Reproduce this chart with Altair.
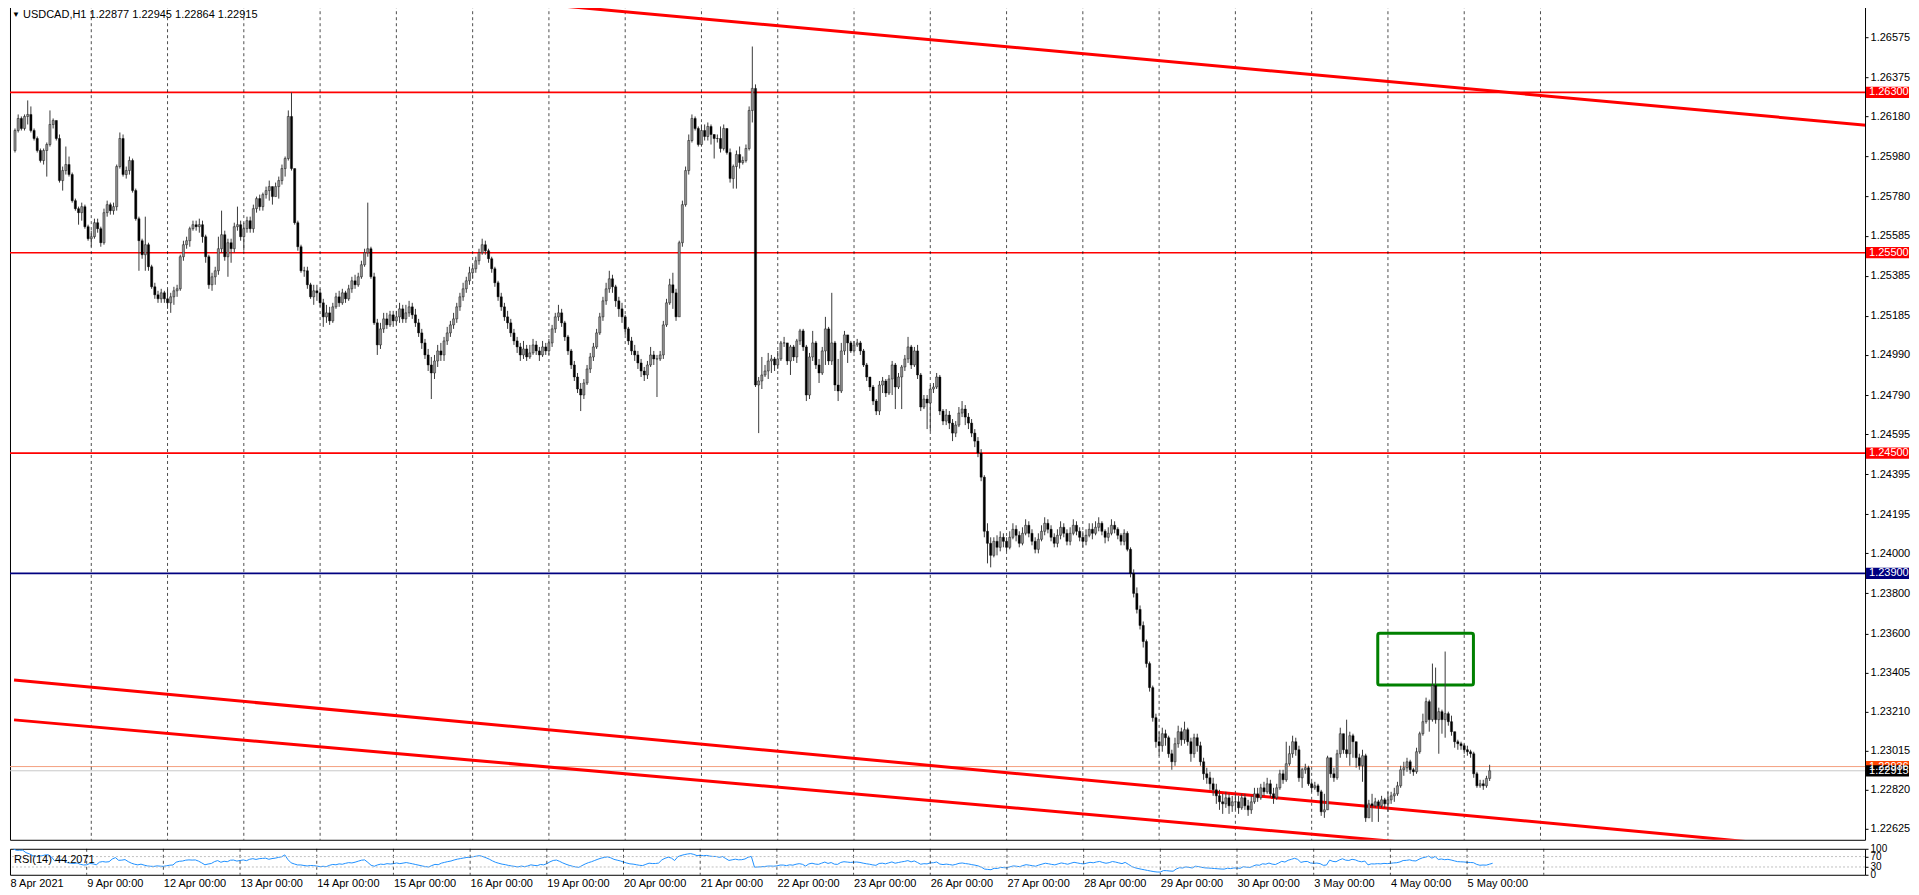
import altair as alt
import pandas as pd

FONT = "Liberation Sans"

# ---------------- data ----------------
DAY_LABELS = ["8 Apr 2021", "9 Apr 00:00", "12 Apr 00:00", "13 Apr 00:00", "14 Apr 00:00",
              "15 Apr 00:00", "16 Apr 00:00", "19 Apr 00:00", "20 Apr 00:00", "21 Apr 00:00",
              "22 Apr 00:00", "23 Apr 00:00", "26 Apr 00:00", "27 Apr 00:00", "28 Apr 00:00",
              "29 Apr 00:00", "30 Apr 00:00", "3 May 00:00", "4 May 00:00", "5 May 00:00"]

# hourly candles; prices written as points above 1.20000 (6110 -> 1.26110)
FIRST_OPEN = 6010
C_0408 = [6110,6170,6120,6180,6190,6110,6070,6010,5960,6010,6040,6140,6160,6070,5860,5910,5940,5890,5760,5720,5700,5730,5630,5570]
H_0408 = [6120,6190,6180,6190,6260,6230,6120,6080,6020,6020,6050,6210,6170,6160,6090,5930,6030,5980,5900,5770,5730,5750,5740,5640]
L_0408 = [6000,6100,6110,6110,6140,6100,6060,6000,5950,5940,5880,6030,6120,6060,5850,5810,5890,5880,5750,5710,5640,5660,5620,5560]
C_0409 = [5580,5650,5620,5550,5700,5740,5710,5730,5930,6070,5890,5910,5960,5810,5670,5560,5490,5540,5430,5330,5290,5270,5300,5270]
H_0409 = [5610,5670,5670,5630,5720,5760,5750,5750,5940,6100,6090,5930,5980,5970,5820,5680,5570,5680,5550,5440,5350,5310,5320,5310]
L_0409 = [5530,5570,5600,5530,5540,5680,5690,5690,5710,5920,5880,5870,5890,5800,5660,5410,5470,5410,5410,5320,5270,5250,5250,5250]
C_0412 = [5250,5280,5310,5320,5480,5540,5560,5620,5640,5630,5640,5580,5480,5340,5380,5410,5520,5590,5480,5550,5520,5630,5640,5580]
H_0412 = [5320,5300,5330,5340,5490,5560,5580,5630,5660,5660,5670,5660,5590,5490,5400,5430,5580,5710,5610,5570,5570,5650,5730,5660]
L_0412 = [5220,5200,5240,5280,5310,5460,5520,5530,5610,5610,5600,5550,5450,5320,5310,5340,5390,5500,5460,5380,5450,5500,5610,5560]
C_0413 = [5620,5660,5620,5720,5770,5730,5790,5810,5830,5780,5830,5860,5920,5970,6180,5920,5650,5530,5410,5410,5340,5280,5310,5300]
H_0413 = [5650,5680,5680,5740,5780,5790,5800,5830,5860,5820,5850,5880,5940,5980,6210,6300,5920,5660,5540,5430,5430,5350,5340,5340]
L_0413 = [5510,5600,5600,5600,5700,5710,5710,5770,5760,5740,5780,5770,5840,5880,5960,5910,5640,5510,5400,5380,5320,5270,5240,5260]
C_0414 = [5250,5180,5200,5160,5230,5280,5250,5300,5270,5320,5360,5340,5380,5440,5500,5520,5380,5150,5040,5120,5170,5140,5190,5160]
H_0414 = [5320,5270,5240,5230,5250,5300,5310,5320,5310,5340,5380,5390,5400,5460,5520,5750,5530,5400,5170,5150,5200,5200,5210,5210]
L_0414 = [5230,5130,5150,5140,5150,5220,5230,5240,5250,5260,5300,5320,5330,5370,5430,5480,5370,5140,4990,5020,5100,5120,5130,5130]
C_0415 = [5180,5220,5170,5200,5230,5190,5150,5100,5050,4990,4940,4900,4960,5010,4990,5060,5100,5140,5170,5230,5280,5320,5360,5400]
H_0415 = [5210,5250,5240,5240,5260,5250,5220,5170,5120,5070,5020,4980,4990,5040,5050,5080,5130,5160,5200,5250,5300,5350,5380,5430]
L_0415 = [5140,5150,5150,5150,5180,5170,5130,5080,5020,4970,4910,4770,4870,4930,4960,4960,5040,5080,5120,5150,5210,5260,5300,5340]
C_0416 = [5420,5460,5500,5540,5510,5470,5420,5350,5280,5230,5180,5150,5100,5060,5030,4990,5020,4980,5000,5040,5010,4990,5030,5010]
H_0416 = [5440,5480,5520,5570,5560,5520,5480,5430,5360,5300,5250,5210,5170,5120,5080,5050,5060,5040,5040,5070,5060,5030,5060,5050]
L_0416 = [5370,5400,5440,5490,5490,5450,5400,5330,5260,5210,5160,5120,5080,5040,5000,4960,4970,4960,4970,4990,4990,4960,4980,4990]
C_0419 = [5050,5120,5180,5200,5150,5080,5010,4940,4880,4820,4790,4850,4920,4980,5030,5100,5180,5260,5320,5370,5330,5260,5220,5180]
H_0419 = [5070,5140,5200,5240,5220,5160,5090,5020,4960,4900,4850,4870,4940,5000,5050,5120,5200,5280,5350,5410,5390,5340,5280,5250]
L_0419 = [4990,5030,5100,5160,5130,5060,4990,4920,4860,4800,4710,4770,4840,4900,4960,5020,5090,5160,5240,5300,5300,5230,5180,5150]
C_0420 = [5120,5060,5010,4990,4950,4910,4890,4940,4990,4970,4970,4990,5140,5250,5340,5300,5180,5550,5740,5910,6060,6170,6120,6040]
H_0420 = [5190,5130,5080,5040,5010,4970,4930,4960,5030,5010,4990,5010,5160,5270,5370,5400,5320,5560,5760,5930,6090,6190,6180,6130]
L_0420 = [5090,5040,4990,4960,4920,4880,4860,4870,4930,4940,4780,4960,4970,5130,5240,5220,5160,5180,5530,5730,5890,6050,6110,6030]
C_0421 = [6110,6080,6130,6090,6070,6070,6020,6120,6000,5870,5930,5990,5950,5960,6020,6210,6320,4840,4860,4890,4910,4960,4970,4940]
H_0421 = [6140,6140,6150,6140,6090,6090,6130,6140,6120,6020,5940,6010,6030,5980,6040,6230,6529,6340,4880,4980,4940,5000,4990,4980]
L_0421 = [6030,6060,6060,6040,5970,6050,6000,6010,5990,5850,5820,5820,5920,5940,5950,6010,6150,4830,4600,4820,4880,4870,4900,4910]
C_0422 = [4970,5050,5050,4960,5030,4980,5060,5110,5030,4790,4980,5050,4940,4900,5010,5120,4960,5050,4840,4810,5010,5090,5050,5010]
H_0422 = [5010,5060,5080,5050,5040,5040,5070,5120,5120,5040,5000,5110,5060,4970,5030,5180,5130,5300,5060,4970,5050,5110,5070,5060]
L_0422 = [4920,4960,5030,4940,4890,4960,4950,5040,5010,4760,4770,4960,4920,4850,4890,4940,4940,4940,4810,4760,4800,4990,4950,5000]
C_0423 = [5040,5050,5010,4940,4880,4830,4760,4710,4840,4860,4800,4870,4940,4830,4880,4930,4970,5030,4940,5010,4890,4730,4770,4750]
H_0423 = [5060,5070,5060,5020,4950,4880,4840,4770,4860,4880,4870,4890,4960,4950,4900,4940,4990,5080,5040,5030,5040,4900,4790,4790]
L_0423 = [5000,5030,4990,4930,4860,4810,4740,4690,4690,4800,4780,4790,4790,4720,4820,4720,4910,4950,4920,4930,4870,4710,4720,4620]
C_0426 = [4820,4830,4880,4710,4660,4690,4650,4600,4640,4700,4720,4680,4650,4600,4560,4500,4380,4110,4050,3990,4060,4030,4080,4060]
H_0426 = [4840,4850,4900,4890,4720,4720,4710,4670,4660,4730,4760,4740,4700,4670,4620,4580,4520,4390,4150,4080,4080,4090,4110,4100]
L_0426 = [4610,4800,4820,4690,4640,4640,4620,4560,4580,4630,4680,4640,4620,4580,4530,4480,4360,4080,3950,3930,3980,3990,4010,4030]
C_0427 = [4030,4080,4120,4090,4050,4100,4140,4100,4060,4020,4070,4110,4150,4120,4080,4050,4090,4130,4100,4060,4100,4140,4110,4080]
H_0427 = [4080,4110,4150,4140,4110,4130,4170,4160,4120,4080,4100,4140,4180,4170,4140,4100,4120,4160,4150,4120,4130,4170,4160,4130]
L_0427 = [4010,4020,4070,4060,4030,4040,4090,4080,4040,4000,4000,4060,4090,4100,4060,4030,4030,4070,4080,4040,4040,4090,4090,4060]
C_0428 = [4060,4090,4120,4100,4130,4150,4110,4080,4100,4140,4120,4090,4060,4100,4020,3900,3800,3720,3640,3560,3450,3330,3180,3060]
H_0428 = [4110,4120,4150,4150,4160,4180,4160,4120,4130,4170,4160,4130,4100,4120,4110,4030,3920,3830,3740,3660,3570,3460,3340,3200]
L_0428 = [4030,4040,4080,4070,4090,4110,4090,4050,4060,4090,4100,4070,4040,4040,4010,3880,3780,3700,3620,3530,3430,3310,3160,3030]
C_0429 = [3040,3100,3080,3000,2960,3050,3110,3070,3120,3060,3000,3080,3040,2960,2900,2880,2850,2820,2790,2760,2750,2780,2740,2760]
H_0429 = [3110,3130,3120,3090,3020,3080,3140,3130,3160,3130,3080,3100,3100,3060,2980,2930,2910,2880,2850,2820,2800,2810,2800,2790]
L_0429 = [2990,3010,3040,2980,2920,2940,3030,3040,3050,3040,2960,2980,3010,2940,2870,2850,2820,2790,2750,2720,2700,2730,2700,2710]
C_0430 = [2760,2730,2780,2740,2720,2760,2800,2780,2830,2810,2850,2800,2780,2830,2900,2870,2950,3000,3060,3020,2880,2920,2930,2850]
H_0430 = [2800,2790,2800,2800,2770,2790,2830,2830,2850,2860,2880,2870,2830,2850,2920,2920,3060,3040,3090,3080,3040,2930,2950,2940]
L_0430 = [2720,2700,2720,2720,2690,2700,2750,2760,2770,2790,2800,2780,2750,2770,2820,2850,2860,2940,2980,2990,2860,2830,2900,2840]
C_0503 = [2830,2840,2810,2710,2720,2980,2900,2880,3000,3100,3020,3000,3090,3060,2980,2940,2990,2680,2750,2740,2760,2740,2770,2750]
H_0503 = [2860,2860,2850,2820,2800,2990,2980,2930,3020,3130,3100,3170,3110,3100,3040,3000,3020,3000,2770,2800,2780,2770,2790,2780]
L_0503 = [2810,2820,2790,2690,2680,2720,2880,2860,2870,2980,3000,2980,2940,2980,2930,2920,2860,2660,2680,2660,2730,2660,2730,2730]
C_0504 = [2770,2790,2800,2840,2920,2930,2960,2920,2910,3010,3100,3160,3260,3170,3340,3170,3210,3170,3200,3160,3110,3060,3050,3040]
H_0504 = [2810,2810,2830,2860,2940,2960,2980,2970,2930,3030,3110,3200,3280,3270,3450,3430,3230,3220,3510,3210,3190,3110,3070,3060]
L_0504 = [2710,2750,2760,2790,2830,2890,2910,2900,2890,2900,3000,3090,3150,3110,3160,3150,3000,3100,3080,3140,3090,3030,3020,3020]
C_0505 = [3020,3010,3000,2900,2840,2850,2840,2877,2915]
H_0505 = [3050,3040,3020,3010,2910,2870,2870,2890,2945]
L_0505 = [3000,2990,2980,2880,2830,2830,2820,2830,2864]

DAYS = [(C_0408, H_0408, L_0408), (C_0409, H_0409, L_0409), (C_0412, H_0412, L_0412),
        (C_0413, H_0413, L_0413), (C_0414, H_0414, L_0414), (C_0415, H_0415, L_0415),
        (C_0416, H_0416, L_0416), (C_0419, H_0419, L_0419), (C_0420, H_0420, L_0420),
        (C_0421, H_0421, L_0421), (C_0422, H_0422, L_0422), (C_0423, H_0423, L_0423),
        (C_0426, H_0426, L_0426), (C_0427, H_0427, L_0427), (C_0428, H_0428, L_0428),
        (C_0429, H_0429, L_0429), (C_0430, H_0430, L_0430), (C_0503, H_0503, L_0503),
        (C_0504, H_0504, L_0504), (C_0505, H_0505, L_0505)]

PRICE_TICKS = [1.26575, 1.26375, 1.26180, 1.25980, 1.25780, 1.25585, 1.25385, 1.25185,
               1.24990, 1.24790, 1.24595, 1.24395, 1.24195, 1.24000, 1.23800, 1.23600,
               1.23405, 1.23210, 1.23015, 1.22820, 1.22625]

LEVEL_PRICES = [1.26300, 1.25500, 1.24500, 1.23900, 1.22936, 1.22915]
LEVEL_COLORS = ["#ff0000", "#ff0000", "#ff0000", "#000080", "#f4a080", "#c8c8c8"]
LEVEL_WIDTHS = [1.6, 1.6, 1.6, 1.6, 1.0, 1.0]

TAG_PRICES = [1.26300, 1.25500, 1.24500, 1.23900, 1.22936, 1.22915]
TAG_TEXT = ["1.26300", "1.25500", "1.24500", "1.23900", "1.22936", "1.22915"]
TAG_COLORS = ["#ff0000", "#ff0000", "#ff0000", "#000080", "#ff4500", "#000000"]

# channel trend lines: (bar index, price) anchor pairs
TREND_ID = ["top", "top", "mid", "mid", "low", "low"]
TREND_BAR = [169.5, 582.7, -0.3, 552.7, -0.3, 442.9]
TREND_PRICE = [1.26735, 1.26136, 1.23368, 1.22550, 1.23169, 1.22550]

BOX_BAR = [428.8, 458.9]
BOX_PRICE = [1.23601, 1.23343]

RSI_LEVELS = [30, 70]
RSI_TICKS = [0, 30, 70, 100]
TITLE = "USDCAD,H1  1.22877 1.22945 1.22864 1.22915"
RSI_TITLE = "RSI(14) 44.2071"

# ---------------- build tables ----------------
rows = []
prev = FIRST_OPEN
for d, (cs, hs, ls) in enumerate(DAYS):
    for j, c in enumerate(cs):
        o = prev
        h = max(hs[j], o, c)
        l = min(ls[j], o, c)
        rows.append({"i": d * 24 + j, "o": 1.2 + o / 1e5, "c": 1.2 + c / 1e5,
                     "h": 1.2 + h / 1e5, "l": 1.2 + l / 1e5})
        prev = c
bars = pd.DataFrame(rows)

delta = bars["c"].diff()
up = delta.clip(lower=0).ewm(alpha=1 / 14, adjust=False).mean()
dn = (-delta).clip(lower=0).ewm(alpha=1 / 14, adjust=False).mean()
bars["rsi"] = 100 - 100 / (1 + up / dn)
rsi_df = bars.iloc[1:][["i", "rsi"]]

grid_df = pd.DataFrame({"i": [24 * k for k in range(1, 21)]})
lev_df = pd.DataFrame({"p": LEVEL_PRICES, "col": LEVEL_COLORS, "w": LEVEL_WIDTHS})
tag_df = pd.DataFrame({"p": TAG_PRICES, "t": TAG_TEXT, "col": TAG_COLORS, "k": range(len(TAG_TEXT))})
trend_df = pd.DataFrame({"id": TREND_ID, "i": TREND_BAR, "p": TREND_PRICE})
box_df = pd.DataFrame({"i1": [BOX_BAR[0]], "i2": [BOX_BAR[1]], "p1": [BOX_PRICE[0]], "p2": [BOX_PRICE[1]]})
rsilev_df = pd.DataFrame({"v": RSI_LEVELS})

# ---------------- layout ----------------
# the view starts 4px above the canvas (negative top padding) like the terminal window
W, H, HR = 1856, 835, 26
PX_PER_BAR = 3.197
PX_PER_PRICE = 20051
YTOP = 1.26735
xs = alt.Scale(domain=[0, W / PX_PER_BAR], nice=False, zero=False)
ys = alt.Scale(domain=[YTOP - H / PX_PER_PRICE, YTOP], nice=False, zero=False)
rs = alt.Scale(domain=[0, 100], nice=False, zero=False)

price_axis = alt.Axis(orient="right", values=PRICE_TICKS, format=".5f", tickSize=3,
                      tickColor="#000", domain=False, grid=False, labelPadding=2,
                      labelFont=FONT, labelFontSize=11, labelColor="#000", title=None)
date_expr = "[" + ",".join("'" + s + "'" for s in DAY_LABELS) + "][round(datum.value / 24)]"
date_axis = alt.Axis(values=[24 * k for k in range(len(DAY_LABELS))], labelExpr=date_expr,
                     labelAlign="left", labelFlush=False, labelOverlap=False, ticks=False,
                     domain=False, grid=False, labelPadding=3, labelFont=FONT, labelFontSize=11,
                     labelColor="#000", title=None)
rsi_axis = alt.Axis(orient="right", values=RSI_TICKS, tickSize=3, tickColor="#000", domain=False,
                    grid=False, labelPadding=2, labelFont=FONT, labelFontSize=10,
                    labelOverlap=False, labelColor="#000", title=None)


def XM(field="i"):
    return alt.X(f"{field}:Q", scale=xs, axis=None)


def YM(field):
    return alt.Y(f"{field}:Q", scale=ys, axis=price_axis)


def XR(field="i"):
    return alt.X(f"{field}:Q", scale=xs, axis=date_axis)


def YR(field):
    return alt.Y(f"{field}:Q", scale=rs, axis=rsi_axis)


grid = alt.Chart(grid_df).mark_rule(color="#000", strokeDash=[3, 3], strokeWidth=1, opacity=0.7).encode(x=XM())

levels = alt.Chart(lev_df).mark_rule().encode(
    y=YM("p"), color=alt.Color("col:N", scale=None),
    strokeWidth=alt.StrokeWidth("w:Q", scale=None))

trend = alt.Chart(trend_df).mark_line(color="#ff0000", strokeWidth=3, clip=True).encode(
    x=XM(), y=YM("p"), detail="id:N")

box = alt.Chart(box_df).mark_rect(fillOpacity=0, stroke="#008000", strokeWidth=3, cornerRadius=2).encode(
    x=XM("i1"), x2="i2", y=YM("p1"), y2="p2")

wicks = alt.Chart(bars).mark_rule(color="#3a3a3a", strokeWidth=1, clip=True).encode(
    x=XM(), y=YM("l"), y2="h")

bodies = alt.Chart(bars).mark_bar(size=2.2, stroke="#000", strokeWidth=0.4, clip=True).encode(
    x=XM(), y=YM("o"), y2="c",
    color=alt.condition("datum.c >= datum.o", alt.value("#8e8e8e"), alt.value("#000000")))

tag_box = alt.Chart(tag_df).transform_calculate(
    lo="datum.p - 0.00028", hi="datum.p + 0.00028").mark_rect().encode(
    x=alt.value(W + 1), x2=alt.value(W + 44),
    y=YM("lo"), y2="hi:Q",
    color=alt.Color("col:N", scale=None), order="k:Q")

tag_text = alt.Chart(tag_df).mark_text(align="left", baseline="middle", color="#ffffff",
                                        font=FONT, fontSize=11).encode(
    x=alt.value(W + 4), y=YM("p"), text="t:N", order="k:Q")

title_tri = alt.Chart(pd.DataFrame({"t": ["\u25bc"]})).mark_text(
    align="left", baseline="top", font=FONT, fontSize=8, color="#000").encode(
    x=alt.value(2), y=alt.value(6), text="t:N")
title_txt = alt.Chart(pd.DataFrame({"t": [TITLE]})).mark_text(
    align="left", baseline="top", font=FONT, fontSize=11, color="#000").encode(
    x=alt.value(13), y=alt.value(4), text="t:N")

main = alt.layer(levels, grid, trend, box, wicks, bodies, tag_box, tag_text, title_tri, title_txt).properties(
    width=W, height=H)

rgrid = alt.Chart(grid_df).mark_rule(color="#000", strokeDash=[3, 3], strokeWidth=1, opacity=0.7).encode(
    x=XR())
rlev = alt.Chart(rsilev_df).mark_rule(color="#c0c0c0", strokeDash=[2, 2]).encode(y=YR("v"))
rline = alt.Chart(rsi_df).mark_line(color="#1e90ff", strokeWidth=1, clip=True).encode(
    x=XR(), y=YR("rsi"))
rtitle = alt.Chart(pd.DataFrame({"t": [RSI_TITLE]})).mark_text(
    align="left", baseline="middle", font=FONT, fontSize=11, color="#000").encode(
    x=alt.value(4), y=alt.value(11), text="t:N")

rsi = alt.layer(rline, rgrid, rlev, rtitle).properties(width=W, height=HR)

chart = alt.vconcat(main, rsi, spacing=2).resolve_scale(x="independent", y="independent").properties(
    padding={"top": -4, "left": 0, "right": 0, "bottom": 0}, background="#ffffff").configure_view(
    stroke="#000", strokeWidth=1)

chart.save("out.html", embed_options={"renderer": "svg", "actions": False})
